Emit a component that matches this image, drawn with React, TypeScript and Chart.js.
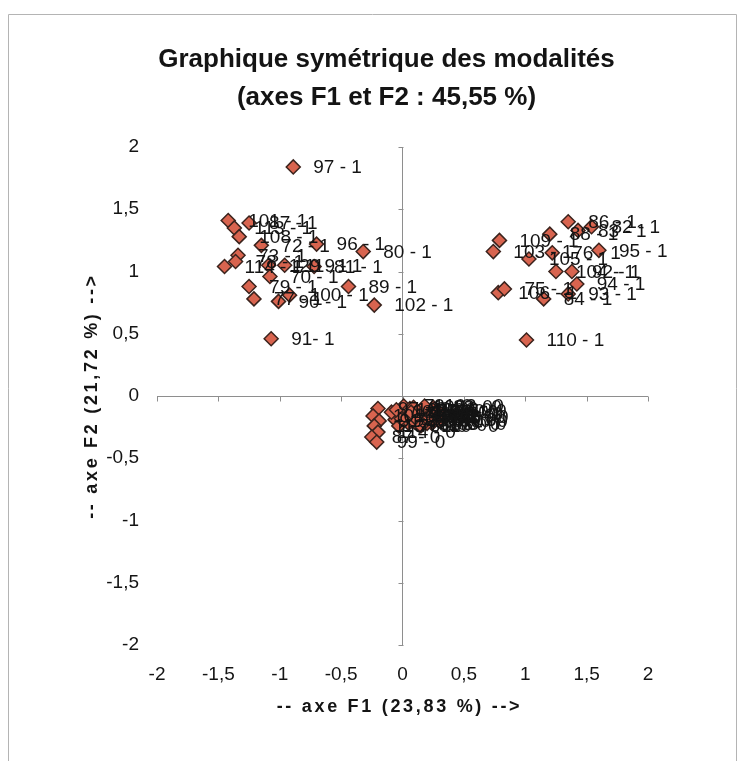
import { useEffect, useRef } from "react";
import { Chart, registerables } from "chart.js";

Chart.register(...registerables);

// ---- data ----
const modalityLabels = [
  // upper-left group
  "97 - 1", "101 - 1", "113 - 1", "87 - 1", "108 - 1", "72 - 1", "96 - 1", "80 - 1",
  "73 - 1", "78 - 1", "114 - 1", "129 - 1", "119 - 1", "81 - 1", "70 - 1", "79 - 1",
  "89 - 1", "100 - 1", "77 - 1", "90 - 1", "102 - 1", "91- 1",
  // upper-right group
  "86 - 1", "88 - 1", "83 - 1", "82 - 1", "109 - 1", "103 - 1", "105 - 1", "76 - 1",
  "95 - 1", "104 - 1", "92 - 1", "106 - 1", "75 - 1", "84 - 1", "94 - 1", "93 - 1",
  "110 - 1",
  // column just left of the vertical axis
  "97 - 0", "101 - 0", "91 - 0", "113 - 0", "114 - 0", "87 - 0", "99 - 0",
  // dense group near the origin
  "70 - 0", "72 - 0", "73 - 0", "75 - 0", "76 - 0", "77 - 0", "78 - 0", "79 - 0",
  "80 - 0", "81 - 0", "82 - 0", "83 - 0", "84 - 0", "86 - 0", "88 - 0", "89 - 0",
  "90 - 0", "92 - 0", "93 - 0", "94 - 0", "95 - 0", "96 - 0", "100 - 0", "102 - 0",
  "103 - 0", "104 - 0", "105 - 0", "106 - 0", "108 - 0", "109 - 0", "110 - 0", "119 - 0",
  "129 - 0",
];

const f1Coords = [
  -0.89, -1.42, -1.37, -1.25, -1.33, -1.15, -0.70, -0.32,
  -1.34, -1.36, -1.45, -1.09, -0.96, -0.72, -1.08, -1.25,
  -0.44, -0.92, -1.21, -1.01, -0.23, -1.07,
  1.35, 1.20, 1.43, 1.54, 0.79, 0.74, 1.03, 1.22,
  1.60, 1.25, 1.38, 0.78, 0.83, 1.15, 1.42, 1.35,
  1.01,
  -0.20, -0.24, -0.19, -0.23, -0.20, -0.25, -0.21,
  0.02, -0.06, 0.05, 0.11, -0.03, 0.08, 0.16, 0.01,
  0.22, 0.13, 0.28, 0.06, 0.19, 0.30, 0.25, 0.10,
  0.17, 0.26, 0.24, 0.21, 0.29, 0.04, 0.14, 0.18,
  0.20, -0.09, 0.12, 0.22, 0.09, -0.01, 0.15, 0.07,
  -0.05,
];

const f2Coords = [
  1.84, 1.41, 1.35, 1.39, 1.28, 1.21, 1.22, 1.16,
  1.13, 1.08, 1.04, 1.05, 1.05, 1.04, 0.96, 0.88,
  0.88, 0.81, 0.78, 0.76, 0.73, 0.46,
  1.40, 1.30, 1.33, 1.36, 1.25, 1.16, 1.10, 1.15,
  1.17, 1.00, 1.00, 0.83, 0.86, 0.78, 0.90, 0.82,
  0.45,
  -0.10, -0.16, -0.20, -0.24, -0.29, -0.33, -0.37,
  -0.14, -0.19, -0.22, -0.12, -0.24, -0.17, -0.20, -0.08,
  -0.13, -0.23, -0.17, -0.10, -0.16, -0.20, -0.09, -0.21,
  -0.11, -0.14, -0.22, -0.19, -0.12, -0.16, -0.15, -0.08,
  -0.22, -0.13, -0.19, -0.17, -0.09, -0.18, -0.24, -0.13,
  -0.11,
];

const axisTickValues = [-2, -1.5, -1, -0.5, 0, 0.5, 1, 1.5, 2];
const axisTickLabels = ["-2", "-1,5", "-1", "-0,5", "0", "0,5", "1", "1,5", "2"];

const chartTitleLines = ["Graphique symétrique des modalités", "(axes F1 et F2 : 45,55 %)"];
const xAxisTitle = "-- axe F1 (23,83 %) -->";
const yAxisTitle = "-- axe F2 (21,72 %) -->";

// ---- styles ----
const FONT = '"Liberation Sans", Arial, sans-serif';
const AXIS_COLOR = "#8e8e8e";
const TEXT_COLOR = "#141414";

const tickLabel = (v: number | string) => {
  const i = axisTickValues.findIndex((t) => Math.abs(t - Number(v)) < 1e-9);
  return i >= 0 ? axisTickLabels[i] : "";
};

const decorPlugin = {
  id: "decor",
  beforeDraw(chart: any) {
    const { ctx, width, height } = chart;
    ctx.save();
    ctx.strokeStyle = "#b4b4b4";
    ctx.lineWidth = 1;
    ctx.beginPath();
    ctx.moveTo(0.5, height + 5);
    ctx.lineTo(0.5, 6.5);
    ctx.lineTo(width - 3.5, 6.5);
    ctx.lineTo(width - 3.5, height + 5);
    ctx.stroke();
    ctx.restore();
  },
  beforeDatasetsDraw(chart: any) {
    const { ctx } = chart;
    const xs = chart.scales.x;
    const ys = chart.scales.y;
    const x0 = Math.round(xs.getPixelForValue(0)) + 0.5;
    const y0 = Math.round(ys.getPixelForValue(0)) + 0.5;
    ctx.save();
    ctx.strokeStyle = AXIS_COLOR;
    ctx.lineWidth = 1;
    ctx.beginPath();
    xs.ticks.forEach((t: any) => {
      const px = Math.round(xs.getPixelForValue(t.value)) + 0.5;
      ctx.moveTo(px, y0);
      ctx.lineTo(px, y0 + 5);
    });
    ys.ticks.forEach((t: any) => {
      const py = Math.round(ys.getPixelForValue(t.value)) + 0.5;
      ctx.moveTo(x0 - 5, py);
      ctx.lineTo(x0, py);
    });
    ctx.stroke();
    ctx.restore();
  },
  afterDatasetsDraw(chart: any) {
    const { ctx } = chart;
    const meta = chart.getDatasetMeta(0);
    ctx.save();
    ctx.font = `19px ${FONT}`;
    ctx.fillStyle = TEXT_COLOR;
    ctx.textAlign = "left";
    ctx.textBaseline = "middle";
    meta.data.forEach((el: any, i: number) => {
      ctx.fillText(modalityLabels[i], el.x + 20, el.y + 1);
    });
    ctx.restore();
  },
  afterDraw(chart: any) {
    const { ctx, chartArea } = chart;
    const cx = (chartArea.left + chartArea.right) / 2;
    const cy = (chartArea.top + chartArea.bottom) / 2;
    ctx.save();
    ctx.fillStyle = TEXT_COLOR;
    ctx.textAlign = "center";
    ctx.textBaseline = "middle";
    ctx.font = `bold 26px ${FONT}`;
    ctx.fillText(chartTitleLines[0], cx - 16, chartArea.top - 87);
    ctx.fillText(chartTitleLines[1], cx - 16, chartArea.top - 49);
    ctx.font = `bold 18px ${FONT}`;
    (ctx as any).letterSpacing = "2.7px";
    ctx.fillText(xAxisTitle, cx - 3, chartArea.bottom + 62);
    ctx.translate(chartArea.left - 65, cy);
    ctx.rotate(-Math.PI / 2);
    ctx.fillText(yAxisTitle, 0, 0);
    ctx.restore();
  },
};

export default function App() {
  const canvasRef = useRef<HTMLCanvasElement | null>(null);

  useEffect(() => {
    if (!canvasRef.current) return;
    const points = f1Coords.map((x, i) => ({ x, y: f2Coords[i] }));
    const chart = new Chart(canvasRef.current, {
      type: "scatter",
      data: {
        datasets: [
          {
            label: "Modalités",
            data: points,
            pointStyle: "rectRot",
            pointRadius: 7,
            pointHoverRadius: 7,
            borderWidth: 1.5,
            backgroundColor: "#d8644f",
            borderColor: "#3a231d",
          },
        ],
      },
      options: {
        animation: false,
        responsive: true,
        maintainAspectRatio: false,
        events: [],
        layout: { padding: { top: 139, right: 92, left: 0, bottom: 0 } },
        plugins: {
          legend: { display: false },
          tooltip: { enabled: false },
          title: { display: false },
        },
        scales: {
          x: {
            type: "linear",
            position: "bottom",
            min: -2,
            max: 2,
            afterFit: (s: any) => {
              s.height = 116;
            },
            ticks: {
              stepSize: 0.5,
              padding: 18,
              color: TEXT_COLOR,
              font: { family: FONT, size: 19 },
              callback: (v: any) => tickLabel(v),
            },
            grid: {
              drawTicks: false,
              lineWidth: 1,
              color: (c: any) => (c.tick && c.tick.value === 0 ? AXIS_COLOR : "rgba(0,0,0,0)"),
            },
            border: { display: false },
          },
          y: {
            type: "linear",
            position: "left",
            min: -2,
            max: 2,
            afterFit: (s: any) => {
              s.width = 149;
            },
            ticks: {
              stepSize: 0.5,
              padding: 18,
              color: TEXT_COLOR,
              font: { family: FONT, size: 19 },
              callback: (v: any) => tickLabel(v),
            },
            grid: {
              drawTicks: false,
              lineWidth: 1,
              color: (c: any) => (c.tick && c.tick.value === 0 ? AXIS_COLOR : "rgba(0,0,0,0)"),
            },
            border: { display: false },
          },
        },
      },
      plugins: [decorPlugin],
    });
    return () => chart.destroy();
  }, []);

  return (
    <div style={{ position: "relative", width: 732, height: 753 }}>
      <canvas ref={canvasRef} />
    </div>
  );
}
